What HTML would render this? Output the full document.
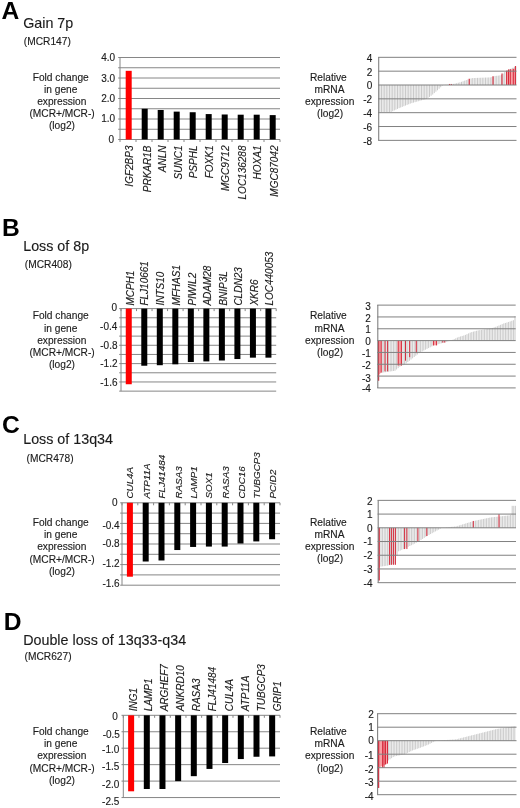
<!DOCTYPE html>
<html><head><meta charset="utf-8"><title>Figure</title>
<style>
html,body{margin:0;padding:0;background:#fff;}
body{width:520px;height:808px;overflow:hidden;font-family:"Liberation Sans", sans-serif;}
svg{display:block;filter:blur(0.35px);}
svg text{font-family:"Liberation Sans", sans-serif;stroke:#222;stroke-width:0.13px;}
</style></head><body>
<svg width="520" height="808" viewBox="0 0 520 808">
<rect x="0" y="0" width="520" height="808" fill="#ffffff"/>
<text x="1.60" y="19.00" font-size="24.6" text-anchor="start" font-weight="bold" font-style="normal" fill="#000" style="stroke:none">A</text>
<text x="23.20" y="28.30" font-size="14.3" text-anchor="start" font-weight="normal" font-style="normal" fill="#1a1a1a" >Gain 7p</text>
<text x="23.80" y="44.90" font-size="10.2" text-anchor="start" font-weight="normal" font-style="normal" fill="#1a1a1a" >(MCR147)</text>
<line x1="118.20" y1="57.50" x2="280.00" y2="57.50" stroke="#868686" stroke-width="1"/>
<line x1="118.20" y1="67.75" x2="280.00" y2="67.75" stroke="#868686" stroke-width="1"/>
<line x1="118.20" y1="78.00" x2="280.00" y2="78.00" stroke="#868686" stroke-width="1"/>
<line x1="118.20" y1="88.25" x2="280.00" y2="88.25" stroke="#868686" stroke-width="1"/>
<line x1="118.20" y1="98.50" x2="280.00" y2="98.50" stroke="#868686" stroke-width="1"/>
<line x1="118.20" y1="108.75" x2="280.00" y2="108.75" stroke="#868686" stroke-width="1"/>
<line x1="118.20" y1="119.00" x2="280.00" y2="119.00" stroke="#868686" stroke-width="1"/>
<line x1="118.20" y1="129.25" x2="280.00" y2="129.25" stroke="#868686" stroke-width="1"/>
<line x1="118.20" y1="139.50" x2="280.00" y2="139.50" stroke="#868686" stroke-width="1"/>
<line x1="120.00" y1="57.50" x2="120.00" y2="139.50" stroke="#868686" stroke-width="1"/>
<line x1="120.00" y1="139.50" x2="120.00" y2="142.00" stroke="#868686" stroke-width="1"/>
<line x1="136.00" y1="139.50" x2="136.00" y2="142.00" stroke="#868686" stroke-width="1"/>
<line x1="152.00" y1="139.50" x2="152.00" y2="142.00" stroke="#868686" stroke-width="1"/>
<line x1="168.00" y1="139.50" x2="168.00" y2="142.00" stroke="#868686" stroke-width="1"/>
<line x1="184.00" y1="139.50" x2="184.00" y2="142.00" stroke="#868686" stroke-width="1"/>
<line x1="200.00" y1="139.50" x2="200.00" y2="142.00" stroke="#868686" stroke-width="1"/>
<line x1="216.00" y1="139.50" x2="216.00" y2="142.00" stroke="#868686" stroke-width="1"/>
<line x1="232.00" y1="139.50" x2="232.00" y2="142.00" stroke="#868686" stroke-width="1"/>
<line x1="248.00" y1="139.50" x2="248.00" y2="142.00" stroke="#868686" stroke-width="1"/>
<line x1="264.00" y1="139.50" x2="264.00" y2="142.00" stroke="#868686" stroke-width="1"/>
<line x1="280.00" y1="139.50" x2="280.00" y2="142.00" stroke="#868686" stroke-width="1"/>
<text x="115.10" y="61.15" font-size="10" text-anchor="end" font-weight="normal" font-style="normal" fill="#1a1a1a" >4.0</text>
<text x="115.10" y="81.75" font-size="10" text-anchor="end" font-weight="normal" font-style="normal" fill="#1a1a1a" >3.0</text>
<text x="115.10" y="101.95" font-size="10" text-anchor="end" font-weight="normal" font-style="normal" fill="#1a1a1a" >2.0</text>
<text x="115.10" y="122.35" font-size="10" text-anchor="end" font-weight="normal" font-style="normal" fill="#1a1a1a" >1.0</text>
<text x="114.10" y="142.85" font-size="10" text-anchor="end" font-weight="normal" font-style="normal" fill="#1a1a1a" >0</text>
<rect x="125.70" y="70.83" width="6.00" height="68.67" fill="#ff0000"/>
<rect x="141.70" y="108.75" width="6.00" height="30.75" fill="#000000"/>
<rect x="157.70" y="109.98" width="6.00" height="29.52" fill="#000000"/>
<rect x="173.70" y="111.62" width="6.00" height="27.88" fill="#000000"/>
<rect x="189.70" y="112.23" width="6.00" height="27.27" fill="#000000"/>
<rect x="205.70" y="114.08" width="6.00" height="25.42" fill="#000000"/>
<rect x="221.70" y="114.49" width="6.00" height="25.01" fill="#000000"/>
<rect x="237.70" y="114.69" width="6.00" height="24.81" fill="#000000"/>
<rect x="253.70" y="114.69" width="6.00" height="24.81" fill="#000000"/>
<rect x="269.70" y="115.11" width="6.00" height="24.39" fill="#000000"/>
<text transform="translate(133.20,145.50) rotate(-90)" font-size="10" font-style="italic" text-anchor="end" fill="#1a1a1a">IGF2BP3</text>
<text transform="translate(151.20,145.50) rotate(-90)" font-size="10" font-style="italic" text-anchor="end" fill="#1a1a1a">PRKAR1B</text>
<text transform="translate(165.50,145.50) rotate(-90)" font-size="10" font-style="italic" text-anchor="end" fill="#1a1a1a">ANLN</text>
<text transform="translate(182.00,145.50) rotate(-90)" font-size="10" font-style="italic" text-anchor="end" fill="#1a1a1a">SUNC1</text>
<text transform="translate(197.20,145.50) rotate(-90)" font-size="10" font-style="italic" text-anchor="end" fill="#1a1a1a">PSPHL</text>
<text transform="translate(213.20,145.50) rotate(-90)" font-size="10" font-style="italic" text-anchor="end" fill="#1a1a1a">FOXK1</text>
<text transform="translate(229.20,145.50) rotate(-90)" font-size="10" font-style="italic" text-anchor="end" fill="#1a1a1a">MGC9712</text>
<text transform="translate(245.60,145.50) rotate(-90)" font-size="10" font-style="italic" text-anchor="end" fill="#1a1a1a">LOC136288</text>
<text transform="translate(261.20,145.50) rotate(-90)" font-size="10" font-style="italic" text-anchor="end" fill="#1a1a1a">HOXA1</text>
<text transform="translate(278.20,145.50) rotate(-90)" font-size="10" font-style="italic" text-anchor="end" fill="#1a1a1a">MGC87042</text>
<text x="60.70" y="80.60" font-size="10.2" text-anchor="middle" font-weight="normal" font-style="normal" fill="#1a1a1a" >Fold change</text>
<text x="60.70" y="92.80" font-size="10.2" text-anchor="middle" font-weight="normal" font-style="normal" fill="#1a1a1a" >in gene</text>
<text x="61.80" y="105.00" font-size="10.2" text-anchor="middle" font-weight="normal" font-style="normal" fill="#1a1a1a" >expression</text>
<text x="62.10" y="117.20" font-size="10.2" text-anchor="middle" font-weight="normal" font-style="normal" fill="#1a1a1a" >(MCR+/MCR-)</text>
<text x="62.00" y="129.40" font-size="10.2" text-anchor="middle" font-weight="normal" font-style="normal" fill="#1a1a1a" >(log2)</text>
<line x1="379.90" y1="85.00" x2="379.90" y2="111.99" stroke="#b3b3b3" stroke-width="0.7"/>
<line x1="381.50" y1="85.00" x2="381.50" y2="111.99" stroke="#b3b3b3" stroke-width="0.7"/>
<line x1="383.10" y1="85.00" x2="383.10" y2="111.99" stroke="#b3b3b3" stroke-width="0.7"/>
<line x1="384.70" y1="85.00" x2="384.70" y2="111.99" stroke="#b3b3b3" stroke-width="0.7"/>
<line x1="386.30" y1="85.00" x2="386.30" y2="111.99" stroke="#b3b3b3" stroke-width="0.7"/>
<line x1="387.90" y1="85.00" x2="387.90" y2="111.99" stroke="#b3b3b3" stroke-width="0.7"/>
<line x1="389.50" y1="85.00" x2="389.50" y2="111.99" stroke="#b3b3b3" stroke-width="0.7"/>
<line x1="391.10" y1="85.00" x2="391.10" y2="111.94" stroke="#b3b3b3" stroke-width="0.7"/>
<line x1="392.70" y1="85.00" x2="392.70" y2="111.18" stroke="#b3b3b3" stroke-width="0.7"/>
<line x1="394.30" y1="85.00" x2="394.30" y2="110.42" stroke="#b3b3b3" stroke-width="0.7"/>
<line x1="395.90" y1="85.00" x2="395.90" y2="109.66" stroke="#b3b3b3" stroke-width="0.7"/>
<line x1="397.50" y1="85.00" x2="397.50" y2="108.90" stroke="#b3b3b3" stroke-width="0.7"/>
<line x1="399.10" y1="85.00" x2="399.10" y2="108.14" stroke="#b3b3b3" stroke-width="0.7"/>
<line x1="400.70" y1="85.00" x2="400.70" y2="107.50" stroke="#b3b3b3" stroke-width="0.7"/>
<line x1="402.30" y1="85.00" x2="402.30" y2="106.85" stroke="#b3b3b3" stroke-width="0.7"/>
<line x1="403.90" y1="85.00" x2="403.90" y2="106.20" stroke="#b3b3b3" stroke-width="0.7"/>
<line x1="405.50" y1="85.00" x2="405.50" y2="105.56" stroke="#b3b3b3" stroke-width="0.7"/>
<line x1="407.10" y1="85.00" x2="407.10" y2="104.91" stroke="#b3b3b3" stroke-width="0.7"/>
<line x1="408.70" y1="85.00" x2="408.70" y2="104.27" stroke="#b3b3b3" stroke-width="0.7"/>
<line x1="410.30" y1="85.00" x2="410.30" y2="103.62" stroke="#b3b3b3" stroke-width="0.7"/>
<line x1="411.90" y1="85.00" x2="411.90" y2="103.08" stroke="#b3b3b3" stroke-width="0.7"/>
<line x1="413.50" y1="85.00" x2="413.50" y2="102.62" stroke="#b3b3b3" stroke-width="0.7"/>
<line x1="415.10" y1="85.00" x2="415.10" y2="102.16" stroke="#b3b3b3" stroke-width="0.7"/>
<line x1="416.70" y1="85.00" x2="416.70" y2="101.69" stroke="#b3b3b3" stroke-width="0.7"/>
<line x1="418.30" y1="85.00" x2="418.30" y2="101.23" stroke="#b3b3b3" stroke-width="0.7"/>
<line x1="419.90" y1="85.00" x2="419.90" y2="100.77" stroke="#b3b3b3" stroke-width="0.7"/>
<line x1="421.50" y1="85.00" x2="421.50" y2="100.31" stroke="#b3b3b3" stroke-width="0.7"/>
<line x1="423.10" y1="85.00" x2="423.10" y2="99.88" stroke="#b3b3b3" stroke-width="0.7"/>
<line x1="424.70" y1="85.00" x2="424.70" y2="99.45" stroke="#b3b3b3" stroke-width="0.7"/>
<line x1="426.30" y1="85.00" x2="426.30" y2="99.03" stroke="#b3b3b3" stroke-width="0.7"/>
<line x1="427.90" y1="85.00" x2="427.90" y2="98.16" stroke="#b3b3b3" stroke-width="0.7"/>
<line x1="429.50" y1="85.00" x2="429.50" y2="96.95" stroke="#b3b3b3" stroke-width="0.7"/>
<line x1="431.10" y1="85.00" x2="431.10" y2="95.74" stroke="#b3b3b3" stroke-width="0.7"/>
<line x1="432.70" y1="85.00" x2="432.70" y2="94.51" stroke="#b3b3b3" stroke-width="0.7"/>
<line x1="434.30" y1="85.00" x2="434.30" y2="93.10" stroke="#b3b3b3" stroke-width="0.7"/>
<line x1="435.90" y1="85.00" x2="435.90" y2="91.69" stroke="#b3b3b3" stroke-width="0.7"/>
<line x1="437.50" y1="85.00" x2="437.50" y2="90.28" stroke="#b3b3b3" stroke-width="0.7"/>
<line x1="439.10" y1="85.00" x2="439.10" y2="88.78" stroke="#b3b3b3" stroke-width="0.7"/>
<line x1="440.70" y1="85.00" x2="440.70" y2="87.23" stroke="#b3b3b3" stroke-width="0.7"/>
<line x1="442.30" y1="85.00" x2="442.30" y2="85.68" stroke="#b3b3b3" stroke-width="0.7"/>
<line x1="443.90" y1="85.00" x2="443.90" y2="84.95" stroke="#b3b3b3" stroke-width="0.7"/>
<line x1="445.50" y1="85.00" x2="445.50" y2="84.86" stroke="#b3b3b3" stroke-width="0.7"/>
<line x1="447.10" y1="85.00" x2="447.10" y2="84.76" stroke="#b3b3b3" stroke-width="0.7"/>
<line x1="448.70" y1="85.00" x2="448.70" y2="84.67" stroke="#b3b3b3" stroke-width="0.7"/>
<line x1="450.30" y1="85.00" x2="450.30" y2="84.43" stroke="#b3b3b3" stroke-width="0.7"/>
<line x1="451.90" y1="85.00" x2="451.90" y2="84.15" stroke="#b3b3b3" stroke-width="0.7"/>
<line x1="453.50" y1="85.00" x2="453.50" y2="83.88" stroke="#b3b3b3" stroke-width="0.7"/>
<line x1="455.10" y1="85.00" x2="455.10" y2="83.59" stroke="#b3b3b3" stroke-width="0.7"/>
<line x1="456.70" y1="85.00" x2="456.70" y2="83.19" stroke="#b3b3b3" stroke-width="0.7"/>
<line x1="458.30" y1="85.00" x2="458.30" y2="82.79" stroke="#b3b3b3" stroke-width="0.7"/>
<line x1="459.90" y1="85.00" x2="459.90" y2="82.40" stroke="#b3b3b3" stroke-width="0.7"/>
<line x1="461.50" y1="85.00" x2="461.50" y2="81.83" stroke="#b3b3b3" stroke-width="0.7"/>
<line x1="463.10" y1="85.00" x2="463.10" y2="81.24" stroke="#b3b3b3" stroke-width="0.7"/>
<line x1="464.70" y1="85.00" x2="464.70" y2="80.66" stroke="#b3b3b3" stroke-width="0.7"/>
<line x1="466.30" y1="85.00" x2="466.30" y2="80.08" stroke="#b3b3b3" stroke-width="0.7"/>
<line x1="467.90" y1="85.00" x2="467.90" y2="79.50" stroke="#b3b3b3" stroke-width="0.7"/>
<line x1="469.50" y1="85.00" x2="469.50" y2="78.94" stroke="#b3b3b3" stroke-width="0.7"/>
<line x1="471.10" y1="85.00" x2="471.10" y2="78.39" stroke="#b3b3b3" stroke-width="0.7"/>
<line x1="472.70" y1="85.00" x2="472.70" y2="78.05" stroke="#b3b3b3" stroke-width="0.7"/>
<line x1="474.30" y1="85.00" x2="474.30" y2="78.00" stroke="#b3b3b3" stroke-width="0.7"/>
<line x1="475.90" y1="85.00" x2="475.90" y2="77.94" stroke="#b3b3b3" stroke-width="0.7"/>
<line x1="477.50" y1="85.00" x2="477.50" y2="77.88" stroke="#b3b3b3" stroke-width="0.7"/>
<line x1="479.10" y1="85.00" x2="479.10" y2="77.82" stroke="#b3b3b3" stroke-width="0.7"/>
<line x1="480.70" y1="85.00" x2="480.70" y2="77.76" stroke="#b3b3b3" stroke-width="0.7"/>
<line x1="482.30" y1="85.00" x2="482.30" y2="77.70" stroke="#b3b3b3" stroke-width="0.7"/>
<line x1="483.90" y1="85.00" x2="483.90" y2="77.65" stroke="#b3b3b3" stroke-width="0.7"/>
<line x1="485.50" y1="85.00" x2="485.50" y2="77.59" stroke="#b3b3b3" stroke-width="0.7"/>
<line x1="487.10" y1="85.00" x2="487.10" y2="77.53" stroke="#b3b3b3" stroke-width="0.7"/>
<line x1="488.70" y1="85.00" x2="488.70" y2="77.47" stroke="#b3b3b3" stroke-width="0.7"/>
<line x1="490.30" y1="85.00" x2="490.30" y2="77.41" stroke="#b3b3b3" stroke-width="0.7"/>
<line x1="491.90" y1="85.00" x2="491.90" y2="77.08" stroke="#b3b3b3" stroke-width="0.7"/>
<line x1="493.50" y1="85.00" x2="493.50" y2="76.52" stroke="#b3b3b3" stroke-width="0.7"/>
<line x1="495.10" y1="85.00" x2="495.10" y2="75.99" stroke="#b3b3b3" stroke-width="0.7"/>
<line x1="496.70" y1="85.00" x2="496.70" y2="75.81" stroke="#b3b3b3" stroke-width="0.7"/>
<line x1="498.30" y1="85.00" x2="498.30" y2="75.62" stroke="#b3b3b3" stroke-width="0.7"/>
<line x1="499.90" y1="85.00" x2="499.90" y2="75.44" stroke="#b3b3b3" stroke-width="0.7"/>
<line x1="501.50" y1="85.00" x2="501.50" y2="74.88" stroke="#b3b3b3" stroke-width="0.7"/>
<line x1="503.10" y1="85.00" x2="503.10" y2="73.50" stroke="#b3b3b3" stroke-width="0.7"/>
<line x1="504.70" y1="85.00" x2="504.70" y2="72.11" stroke="#b3b3b3" stroke-width="0.7"/>
<line x1="506.30" y1="85.00" x2="506.30" y2="71.13" stroke="#b3b3b3" stroke-width="0.7"/>
<line x1="507.90" y1="85.00" x2="507.90" y2="70.25" stroke="#b3b3b3" stroke-width="0.7"/>
<line x1="509.50" y1="85.00" x2="509.50" y2="69.36" stroke="#b3b3b3" stroke-width="0.7"/>
<line x1="511.10" y1="85.00" x2="511.10" y2="68.58" stroke="#b3b3b3" stroke-width="0.7"/>
<line x1="512.70" y1="85.00" x2="512.70" y2="67.84" stroke="#b3b3b3" stroke-width="0.7"/>
<line x1="514.30" y1="85.00" x2="514.30" y2="67.10" stroke="#b3b3b3" stroke-width="0.7"/>
<line x1="515.90" y1="85.00" x2="515.90" y2="66.36" stroke="#b3b3b3" stroke-width="0.7"/>
<polygon points="506.20,85.00 506.20,70.74 515.60,68.39 515.60,85.00" fill="#f7a0a4"/>
<line x1="449.50" y1="85.00" x2="449.50" y2="83.96" stroke="#d62a3c" stroke-width="1"/>
<line x1="451.30" y1="85.00" x2="451.30" y2="83.96" stroke="#d62a3c" stroke-width="1"/>
<line x1="469.20" y1="85.00" x2="469.20" y2="78.77" stroke="#d62a3c" stroke-width="1.1"/>
<line x1="493.00" y1="85.00" x2="493.00" y2="76.21" stroke="#d62a3c" stroke-width="1.1"/>
<line x1="502.00" y1="85.00" x2="502.00" y2="73.58" stroke="#d62a3c" stroke-width="1.1"/>
<line x1="506.60" y1="85.00" x2="506.60" y2="70.74" stroke="#d62a3c" stroke-width="1"/>
<line x1="508.50" y1="85.00" x2="508.50" y2="69.43" stroke="#d62a3c" stroke-width="1"/>
<line x1="510.30" y1="85.00" x2="510.30" y2="69.08" stroke="#d62a3c" stroke-width="1"/>
<line x1="513.30" y1="85.00" x2="513.30" y2="68.74" stroke="#d62a3c" stroke-width="1"/>
<line x1="515.40" y1="85.00" x2="515.40" y2="65.97" stroke="#d62a3c" stroke-width="1.1"/>
<line x1="378.10" y1="57.32" x2="516.50" y2="57.32" stroke="#808080" stroke-width="1.0"/>
<text x="372.20" y="61.67" font-size="10" text-anchor="end" font-weight="normal" font-style="normal" fill="#1a1a1a" >4</text>
<line x1="378.10" y1="71.16" x2="516.50" y2="71.16" stroke="#808080" stroke-width="1.0"/>
<text x="372.20" y="75.51" font-size="10" text-anchor="end" font-weight="normal" font-style="normal" fill="#1a1a1a" >2</text>
<line x1="378.10" y1="85.00" x2="516.50" y2="85.00" stroke="#808080" stroke-width="1.0"/>
<text x="372.20" y="89.35" font-size="10" text-anchor="end" font-weight="normal" font-style="normal" fill="#1a1a1a" >0</text>
<line x1="378.10" y1="98.84" x2="516.50" y2="98.84" stroke="#808080" stroke-width="1.0"/>
<text x="372.20" y="103.19" font-size="10" text-anchor="end" font-weight="normal" font-style="normal" fill="#1a1a1a" >-2</text>
<line x1="378.10" y1="112.68" x2="516.50" y2="112.68" stroke="#808080" stroke-width="1.0"/>
<text x="372.20" y="117.03" font-size="10" text-anchor="end" font-weight="normal" font-style="normal" fill="#1a1a1a" >-4</text>
<line x1="378.10" y1="126.52" x2="516.50" y2="126.52" stroke="#808080" stroke-width="1.0"/>
<text x="372.20" y="130.87" font-size="10" text-anchor="end" font-weight="normal" font-style="normal" fill="#1a1a1a" >-6</text>
<line x1="378.10" y1="140.36" x2="516.50" y2="140.36" stroke="#808080" stroke-width="1.0"/>
<text x="372.20" y="144.71" font-size="10" text-anchor="end" font-weight="normal" font-style="normal" fill="#1a1a1a" >-8</text>
<line x1="378.70" y1="57.32" x2="378.70" y2="140.36" stroke="#808080" stroke-width="1.1"/>
<text x="328.40" y="80.60" font-size="10.2" text-anchor="middle" font-weight="normal" font-style="normal" fill="#1a1a1a" >Relative</text>
<text x="329.50" y="92.70" font-size="10.2" text-anchor="middle" font-weight="normal" font-style="normal" fill="#1a1a1a" >mRNA</text>
<text x="329.70" y="104.80" font-size="10.2" text-anchor="middle" font-weight="normal" font-style="normal" fill="#1a1a1a" >expression</text>
<text x="330.10" y="116.90" font-size="10.2" text-anchor="middle" font-weight="normal" font-style="normal" fill="#1a1a1a" >(log2)</text>
<text x="2.10" y="235.70" font-size="24.6" text-anchor="start" font-weight="bold" font-style="normal" fill="#000" style="stroke:none">B</text>
<text x="23.20" y="250.50" font-size="14.3" text-anchor="start" font-weight="normal" font-style="normal" fill="#1a1a1a" >Loss of 8p</text>
<text x="24.80" y="267.80" font-size="10.2" text-anchor="start" font-weight="normal" font-style="normal" fill="#1a1a1a" >(MCR408)</text>
<line x1="119.20" y1="308.60" x2="276.20" y2="308.60" stroke="#868686" stroke-width="1"/>
<line x1="119.20" y1="317.77" x2="276.20" y2="317.77" stroke="#868686" stroke-width="1"/>
<line x1="119.20" y1="326.94" x2="276.20" y2="326.94" stroke="#868686" stroke-width="1"/>
<line x1="119.20" y1="336.11" x2="276.20" y2="336.11" stroke="#868686" stroke-width="1"/>
<line x1="119.20" y1="345.28" x2="276.20" y2="345.28" stroke="#868686" stroke-width="1"/>
<line x1="119.20" y1="354.45" x2="276.20" y2="354.45" stroke="#868686" stroke-width="1"/>
<line x1="119.20" y1="363.62" x2="276.20" y2="363.62" stroke="#868686" stroke-width="1"/>
<line x1="119.20" y1="372.79" x2="276.20" y2="372.79" stroke="#868686" stroke-width="1"/>
<line x1="119.20" y1="381.96" x2="276.20" y2="381.96" stroke="#868686" stroke-width="1"/>
<line x1="119.20" y1="391.13" x2="276.20" y2="391.13" stroke="#868686" stroke-width="1"/>
<line x1="121.00" y1="308.60" x2="121.00" y2="391.13" stroke="#868686" stroke-width="1"/>
<line x1="121.00" y1="308.60" x2="121.00" y2="311.10" stroke="#868686" stroke-width="1"/>
<line x1="136.52" y1="308.60" x2="136.52" y2="311.10" stroke="#868686" stroke-width="1"/>
<line x1="152.04" y1="308.60" x2="152.04" y2="311.10" stroke="#868686" stroke-width="1"/>
<line x1="167.56" y1="308.60" x2="167.56" y2="311.10" stroke="#868686" stroke-width="1"/>
<line x1="183.08" y1="308.60" x2="183.08" y2="311.10" stroke="#868686" stroke-width="1"/>
<line x1="198.60" y1="308.60" x2="198.60" y2="311.10" stroke="#868686" stroke-width="1"/>
<line x1="214.12" y1="308.60" x2="214.12" y2="311.10" stroke="#868686" stroke-width="1"/>
<line x1="229.64" y1="308.60" x2="229.64" y2="311.10" stroke="#868686" stroke-width="1"/>
<line x1="245.16" y1="308.60" x2="245.16" y2="311.10" stroke="#868686" stroke-width="1"/>
<line x1="260.68" y1="308.60" x2="260.68" y2="311.10" stroke="#868686" stroke-width="1"/>
<line x1="276.20" y1="308.60" x2="276.20" y2="311.10" stroke="#868686" stroke-width="1"/>
<text x="117.10" y="311.15" font-size="10" text-anchor="end" font-weight="normal" font-style="normal" fill="#1a1a1a" >0</text>
<text x="117.30" y="330.35" font-size="10" text-anchor="end" font-weight="normal" font-style="normal" fill="#1a1a1a" >-0.4</text>
<text x="117.50" y="348.85" font-size="10" text-anchor="end" font-weight="normal" font-style="normal" fill="#1a1a1a" >-0.8</text>
<text x="117.50" y="367.05" font-size="10" text-anchor="end" font-weight="normal" font-style="normal" fill="#1a1a1a" >-1.2</text>
<text x="117.50" y="385.55" font-size="10" text-anchor="end" font-weight="normal" font-style="normal" fill="#1a1a1a" >-1.6</text>
<rect x="125.76" y="308.60" width="6.00" height="75.65" fill="#ff0000"/>
<rect x="141.28" y="308.60" width="6.00" height="57.13" fill="#000000"/>
<rect x="156.80" y="308.60" width="6.00" height="56.62" fill="#000000"/>
<rect x="172.32" y="308.60" width="6.00" height="55.71" fill="#000000"/>
<rect x="187.84" y="308.60" width="6.00" height="53.42" fill="#000000"/>
<rect x="203.36" y="308.60" width="6.00" height="52.82" fill="#000000"/>
<rect x="218.88" y="308.60" width="6.00" height="51.90" fill="#000000"/>
<rect x="234.40" y="308.60" width="6.00" height="50.44" fill="#000000"/>
<rect x="249.92" y="308.60" width="6.00" height="49.06" fill="#000000"/>
<rect x="265.44" y="308.60" width="6.00" height="49.06" fill="#000000"/>
<text transform="translate(134.06,305.60) rotate(-90)" font-size="10" font-style="italic" text-anchor="start" fill="#1a1a1a">MCPH1</text>
<text transform="translate(148.08,305.60) rotate(-90)" font-size="10" font-style="italic" text-anchor="start" fill="#1a1a1a">FLJ10661</text>
<text transform="translate(164.00,305.60) rotate(-90)" font-size="10" font-style="italic" text-anchor="start" fill="#1a1a1a">INTS10</text>
<text transform="translate(179.52,305.60) rotate(-90)" font-size="10" font-style="italic" text-anchor="start" fill="#1a1a1a">MFHAS1</text>
<text transform="translate(195.84,305.60) rotate(-90)" font-size="10" font-style="italic" text-anchor="start" fill="#1a1a1a">PIWIL2</text>
<text transform="translate(211.36,305.60) rotate(-90)" font-size="10" font-style="italic" text-anchor="start" fill="#1a1a1a">ADAM28</text>
<text transform="translate(226.88,305.60) rotate(-90)" font-size="10" font-style="italic" text-anchor="start" fill="#1a1a1a">BNIP3L</text>
<text transform="translate(242.40,305.60) rotate(-90)" font-size="10" font-style="italic" text-anchor="start" fill="#1a1a1a">CLDN23</text>
<text transform="translate(257.92,305.60) rotate(-90)" font-size="10" font-style="italic" text-anchor="start" fill="#1a1a1a">XKR6</text>
<text transform="translate(273.44,305.60) rotate(-90)" font-size="10" font-style="italic" text-anchor="start" fill="#1a1a1a">LOC440053</text>
<text x="60.70" y="319.40" font-size="10.2" text-anchor="middle" font-weight="normal" font-style="normal" fill="#1a1a1a" >Fold change</text>
<text x="60.70" y="331.55" font-size="10.2" text-anchor="middle" font-weight="normal" font-style="normal" fill="#1a1a1a" >in gene</text>
<text x="61.80" y="343.70" font-size="10.2" text-anchor="middle" font-weight="normal" font-style="normal" fill="#1a1a1a" >expression</text>
<text x="62.10" y="355.85" font-size="10.2" text-anchor="middle" font-weight="normal" font-style="normal" fill="#1a1a1a" >(MCR+/MCR-)</text>
<text x="62.00" y="368.00" font-size="10.2" text-anchor="middle" font-weight="normal" font-style="normal" fill="#1a1a1a" >(log2)</text>
<line x1="379.00" y1="340.60" x2="379.00" y2="373.13" stroke="#b3b3b3" stroke-width="0.7"/>
<line x1="380.60" y1="340.60" x2="380.60" y2="372.90" stroke="#b3b3b3" stroke-width="0.7"/>
<line x1="382.20" y1="340.60" x2="382.20" y2="372.66" stroke="#b3b3b3" stroke-width="0.7"/>
<line x1="383.80" y1="340.60" x2="383.80" y2="372.42" stroke="#b3b3b3" stroke-width="0.7"/>
<line x1="385.40" y1="340.60" x2="385.40" y2="372.19" stroke="#b3b3b3" stroke-width="0.7"/>
<line x1="387.00" y1="340.60" x2="387.00" y2="371.95" stroke="#b3b3b3" stroke-width="0.7"/>
<line x1="388.60" y1="340.60" x2="388.60" y2="371.71" stroke="#b3b3b3" stroke-width="0.7"/>
<line x1="390.20" y1="340.60" x2="390.20" y2="371.48" stroke="#b3b3b3" stroke-width="0.7"/>
<line x1="391.80" y1="340.60" x2="391.80" y2="371.24" stroke="#b3b3b3" stroke-width="0.7"/>
<line x1="393.40" y1="340.60" x2="393.40" y2="371.00" stroke="#b3b3b3" stroke-width="0.7"/>
<line x1="395.00" y1="340.60" x2="395.00" y2="370.77" stroke="#b3b3b3" stroke-width="0.7"/>
<line x1="396.60" y1="340.60" x2="396.60" y2="369.44" stroke="#b3b3b3" stroke-width="0.7"/>
<line x1="398.20" y1="340.60" x2="398.20" y2="368.12" stroke="#b3b3b3" stroke-width="0.7"/>
<line x1="399.80" y1="340.60" x2="399.80" y2="366.79" stroke="#b3b3b3" stroke-width="0.7"/>
<line x1="401.40" y1="340.60" x2="401.40" y2="365.96" stroke="#b3b3b3" stroke-width="0.7"/>
<line x1="403.00" y1="340.60" x2="403.00" y2="365.21" stroke="#b3b3b3" stroke-width="0.7"/>
<line x1="404.60" y1="340.60" x2="404.60" y2="364.45" stroke="#b3b3b3" stroke-width="0.7"/>
<line x1="406.20" y1="340.60" x2="406.20" y2="363.31" stroke="#b3b3b3" stroke-width="0.7"/>
<line x1="407.80" y1="340.60" x2="407.80" y2="362.05" stroke="#b3b3b3" stroke-width="0.7"/>
<line x1="409.40" y1="340.60" x2="409.40" y2="360.79" stroke="#b3b3b3" stroke-width="0.7"/>
<line x1="411.00" y1="340.60" x2="411.00" y2="359.53" stroke="#b3b3b3" stroke-width="0.7"/>
<line x1="412.60" y1="340.60" x2="412.60" y2="358.27" stroke="#b3b3b3" stroke-width="0.7"/>
<line x1="414.20" y1="340.60" x2="414.20" y2="357.00" stroke="#b3b3b3" stroke-width="0.7"/>
<line x1="415.80" y1="340.60" x2="415.80" y2="355.74" stroke="#b3b3b3" stroke-width="0.7"/>
<line x1="417.40" y1="340.60" x2="417.40" y2="354.48" stroke="#b3b3b3" stroke-width="0.7"/>
<line x1="419.00" y1="340.60" x2="419.00" y2="353.22" stroke="#b3b3b3" stroke-width="0.7"/>
<line x1="420.60" y1="340.60" x2="420.60" y2="352.13" stroke="#b3b3b3" stroke-width="0.7"/>
<line x1="422.20" y1="340.60" x2="422.20" y2="351.31" stroke="#b3b3b3" stroke-width="0.7"/>
<line x1="423.80" y1="340.60" x2="423.80" y2="350.50" stroke="#b3b3b3" stroke-width="0.7"/>
<line x1="425.40" y1="340.60" x2="425.40" y2="349.69" stroke="#b3b3b3" stroke-width="0.7"/>
<line x1="427.00" y1="340.60" x2="427.00" y2="348.88" stroke="#b3b3b3" stroke-width="0.7"/>
<line x1="428.60" y1="340.60" x2="428.60" y2="348.07" stroke="#b3b3b3" stroke-width="0.7"/>
<line x1="430.20" y1="340.60" x2="430.20" y2="347.26" stroke="#b3b3b3" stroke-width="0.7"/>
<line x1="431.80" y1="340.60" x2="431.80" y2="346.45" stroke="#b3b3b3" stroke-width="0.7"/>
<line x1="433.40" y1="340.60" x2="433.40" y2="345.64" stroke="#b3b3b3" stroke-width="0.7"/>
<line x1="435.00" y1="340.60" x2="435.00" y2="345.05" stroke="#b3b3b3" stroke-width="0.7"/>
<line x1="436.60" y1="340.60" x2="436.60" y2="344.61" stroke="#b3b3b3" stroke-width="0.7"/>
<line x1="438.20" y1="340.60" x2="438.20" y2="344.16" stroke="#b3b3b3" stroke-width="0.7"/>
<line x1="439.80" y1="340.60" x2="439.80" y2="343.72" stroke="#b3b3b3" stroke-width="0.7"/>
<line x1="441.40" y1="340.60" x2="441.40" y2="343.27" stroke="#b3b3b3" stroke-width="0.7"/>
<line x1="443.00" y1="340.60" x2="443.00" y2="342.83" stroke="#b3b3b3" stroke-width="0.7"/>
<line x1="444.60" y1="340.60" x2="444.60" y2="342.38" stroke="#b3b3b3" stroke-width="0.7"/>
<line x1="446.20" y1="340.60" x2="446.20" y2="341.94" stroke="#b3b3b3" stroke-width="0.7"/>
<line x1="447.80" y1="340.60" x2="447.80" y2="341.49" stroke="#b3b3b3" stroke-width="0.7"/>
<line x1="449.40" y1="340.60" x2="449.40" y2="341.05" stroke="#b3b3b3" stroke-width="0.7"/>
<line x1="451.00" y1="340.60" x2="451.00" y2="340.60" stroke="#b3b3b3" stroke-width="0.7"/>
<line x1="452.60" y1="340.60" x2="452.60" y2="339.84" stroke="#b3b3b3" stroke-width="0.7"/>
<line x1="454.20" y1="340.60" x2="454.20" y2="339.09" stroke="#b3b3b3" stroke-width="0.7"/>
<line x1="455.80" y1="340.60" x2="455.80" y2="338.33" stroke="#b3b3b3" stroke-width="0.7"/>
<line x1="457.40" y1="340.60" x2="457.40" y2="337.57" stroke="#b3b3b3" stroke-width="0.7"/>
<line x1="459.00" y1="340.60" x2="459.00" y2="336.91" stroke="#b3b3b3" stroke-width="0.7"/>
<line x1="460.60" y1="340.60" x2="460.60" y2="336.44" stroke="#b3b3b3" stroke-width="0.7"/>
<line x1="462.20" y1="340.60" x2="462.20" y2="335.97" stroke="#b3b3b3" stroke-width="0.7"/>
<line x1="463.80" y1="340.60" x2="463.80" y2="335.51" stroke="#b3b3b3" stroke-width="0.7"/>
<line x1="465.40" y1="340.60" x2="465.40" y2="334.89" stroke="#b3b3b3" stroke-width="0.7"/>
<line x1="467.00" y1="340.60" x2="467.00" y2="334.13" stroke="#b3b3b3" stroke-width="0.7"/>
<line x1="468.60" y1="340.60" x2="468.60" y2="333.37" stroke="#b3b3b3" stroke-width="0.7"/>
<line x1="470.20" y1="340.60" x2="470.20" y2="332.61" stroke="#b3b3b3" stroke-width="0.7"/>
<line x1="471.80" y1="340.60" x2="471.80" y2="332.06" stroke="#b3b3b3" stroke-width="0.7"/>
<line x1="473.40" y1="340.60" x2="473.40" y2="331.64" stroke="#b3b3b3" stroke-width="0.7"/>
<line x1="475.00" y1="340.60" x2="475.00" y2="331.22" stroke="#b3b3b3" stroke-width="0.7"/>
<line x1="476.60" y1="340.60" x2="476.60" y2="330.80" stroke="#b3b3b3" stroke-width="0.7"/>
<line x1="478.20" y1="340.60" x2="478.20" y2="330.39" stroke="#b3b3b3" stroke-width="0.7"/>
<line x1="479.80" y1="340.60" x2="479.80" y2="330.12" stroke="#b3b3b3" stroke-width="0.7"/>
<line x1="481.40" y1="340.60" x2="481.40" y2="329.90" stroke="#b3b3b3" stroke-width="0.7"/>
<line x1="483.00" y1="340.60" x2="483.00" y2="329.67" stroke="#b3b3b3" stroke-width="0.7"/>
<line x1="484.60" y1="340.60" x2="484.60" y2="329.44" stroke="#b3b3b3" stroke-width="0.7"/>
<line x1="486.20" y1="340.60" x2="486.20" y2="329.21" stroke="#b3b3b3" stroke-width="0.7"/>
<line x1="487.80" y1="340.60" x2="487.80" y2="328.91" stroke="#b3b3b3" stroke-width="0.7"/>
<line x1="489.40" y1="340.60" x2="489.40" y2="328.60" stroke="#b3b3b3" stroke-width="0.7"/>
<line x1="491.00" y1="340.60" x2="491.00" y2="328.30" stroke="#b3b3b3" stroke-width="0.7"/>
<line x1="492.60" y1="340.60" x2="492.60" y2="327.95" stroke="#b3b3b3" stroke-width="0.7"/>
<line x1="494.20" y1="340.60" x2="494.20" y2="327.39" stroke="#b3b3b3" stroke-width="0.7"/>
<line x1="495.80" y1="340.60" x2="495.80" y2="326.83" stroke="#b3b3b3" stroke-width="0.7"/>
<line x1="497.40" y1="340.60" x2="497.40" y2="326.23" stroke="#b3b3b3" stroke-width="0.7"/>
<line x1="499.00" y1="340.60" x2="499.00" y2="325.53" stroke="#b3b3b3" stroke-width="0.7"/>
<line x1="500.60" y1="340.60" x2="500.60" y2="324.84" stroke="#b3b3b3" stroke-width="0.7"/>
<line x1="502.20" y1="340.60" x2="502.20" y2="324.14" stroke="#b3b3b3" stroke-width="0.7"/>
<line x1="503.80" y1="340.60" x2="503.80" y2="323.45" stroke="#b3b3b3" stroke-width="0.7"/>
<line x1="505.40" y1="340.60" x2="505.40" y2="322.96" stroke="#b3b3b3" stroke-width="0.7"/>
<line x1="507.00" y1="340.60" x2="507.00" y2="322.47" stroke="#b3b3b3" stroke-width="0.7"/>
<line x1="508.60" y1="340.60" x2="508.60" y2="321.98" stroke="#b3b3b3" stroke-width="0.7"/>
<line x1="510.20" y1="340.60" x2="510.20" y2="321.44" stroke="#b3b3b3" stroke-width="0.7"/>
<line x1="511.80" y1="340.60" x2="511.80" y2="320.82" stroke="#b3b3b3" stroke-width="0.7"/>
<line x1="513.40" y1="340.60" x2="513.40" y2="320.21" stroke="#b3b3b3" stroke-width="0.7"/>
<line x1="515.00" y1="340.60" x2="515.00" y2="316.03" stroke="#b3b3b3" stroke-width="0.7"/>
<polygon points="378.40,340.60 378.40,374.91 381.40,372.54 381.40,340.60" fill="#f7a0a4"/>
<polygon points="397.80,340.60 397.80,365.44 401.80,365.44 401.80,340.60" fill="#f7a0a4"/>
<polygon points="433.00,340.60 433.00,345.33 437.00,345.33 437.00,340.60" fill="#f7a0a4"/>
<line x1="378.60" y1="340.60" x2="378.60" y2="380.82" stroke="#d62a3c" stroke-width="1.2"/>
<line x1="381.20" y1="340.60" x2="381.20" y2="372.54" stroke="#d62a3c" stroke-width="1"/>
<line x1="385.00" y1="340.60" x2="385.00" y2="371.36" stroke="#d62a3c" stroke-width="1"/>
<line x1="387.60" y1="340.60" x2="387.60" y2="371.36" stroke="#d62a3c" stroke-width="1"/>
<line x1="398.20" y1="340.60" x2="398.20" y2="365.44" stroke="#d62a3c" stroke-width="1"/>
<line x1="401.40" y1="340.60" x2="401.40" y2="365.44" stroke="#d62a3c" stroke-width="1"/>
<line x1="405.50" y1="340.60" x2="405.50" y2="360.71" stroke="#d62a3c" stroke-width="1"/>
<line x1="409.70" y1="340.60" x2="409.70" y2="357.16" stroke="#d62a3c" stroke-width="1"/>
<line x1="416.30" y1="340.60" x2="416.30" y2="353.14" stroke="#d62a3c" stroke-width="1"/>
<line x1="433.40" y1="340.60" x2="433.40" y2="345.33" stroke="#d62a3c" stroke-width="1"/>
<line x1="436.60" y1="340.60" x2="436.60" y2="345.33" stroke="#d62a3c" stroke-width="1"/>
<line x1="442.80" y1="340.60" x2="442.80" y2="342.61" stroke="#d62a3c" stroke-width="1"/>
<line x1="444.80" y1="340.60" x2="444.80" y2="342.61" stroke="#d62a3c" stroke-width="1"/>
<line x1="377.20" y1="305.11" x2="515.70" y2="305.11" stroke="#808080" stroke-width="1.0"/>
<text x="370.80" y="309.75" font-size="10" text-anchor="end" font-weight="normal" font-style="normal" fill="#1a1a1a" >3</text>
<line x1="377.20" y1="316.94" x2="515.70" y2="316.94" stroke="#808080" stroke-width="1.0"/>
<text x="370.80" y="322.15" font-size="10" text-anchor="end" font-weight="normal" font-style="normal" fill="#1a1a1a" >2</text>
<line x1="377.20" y1="328.77" x2="515.70" y2="328.77" stroke="#808080" stroke-width="1.0"/>
<text x="370.80" y="333.35" font-size="10" text-anchor="end" font-weight="normal" font-style="normal" fill="#1a1a1a" >1</text>
<line x1="377.20" y1="340.60" x2="515.70" y2="340.60" stroke="#808080" stroke-width="1.0"/>
<text x="370.80" y="345.05" font-size="10" text-anchor="end" font-weight="normal" font-style="normal" fill="#1a1a1a" >0</text>
<line x1="377.20" y1="352.43" x2="515.70" y2="352.43" stroke="#808080" stroke-width="1.0"/>
<text x="370.80" y="356.85" font-size="10" text-anchor="end" font-weight="normal" font-style="normal" fill="#1a1a1a" >-1</text>
<line x1="377.20" y1="364.26" x2="515.70" y2="364.26" stroke="#808080" stroke-width="1.0"/>
<text x="370.80" y="369.15" font-size="10" text-anchor="end" font-weight="normal" font-style="normal" fill="#1a1a1a" >-2</text>
<line x1="377.20" y1="376.09" x2="515.70" y2="376.09" stroke="#808080" stroke-width="1.0"/>
<text x="370.80" y="381.55" font-size="10" text-anchor="end" font-weight="normal" font-style="normal" fill="#1a1a1a" >-3</text>
<line x1="377.20" y1="387.92" x2="515.70" y2="387.92" stroke="#808080" stroke-width="1.0"/>
<text x="370.80" y="392.15" font-size="10" text-anchor="end" font-weight="normal" font-style="normal" fill="#1a1a1a" >-4</text>
<line x1="377.80" y1="305.11" x2="377.80" y2="387.92" stroke="#808080" stroke-width="1.1"/>
<text x="328.40" y="319.20" font-size="10.2" text-anchor="middle" font-weight="normal" font-style="normal" fill="#1a1a1a" >Relative</text>
<text x="329.50" y="331.50" font-size="10.2" text-anchor="middle" font-weight="normal" font-style="normal" fill="#1a1a1a" >mRNA</text>
<text x="329.70" y="343.80" font-size="10.2" text-anchor="middle" font-weight="normal" font-style="normal" fill="#1a1a1a" >expression</text>
<text x="330.10" y="356.10" font-size="10.2" text-anchor="middle" font-weight="normal" font-style="normal" fill="#1a1a1a" >(log2)</text>
<text x="2.10" y="432.50" font-size="24.6" text-anchor="start" font-weight="bold" font-style="normal" fill="#000" style="stroke:none">C</text>
<text x="23.20" y="443.60" font-size="14.3" text-anchor="start" font-weight="normal" font-style="normal" fill="#1a1a1a" >Loss of 13q34</text>
<text x="26.60" y="462.00" font-size="10.2" text-anchor="start" font-weight="normal" font-style="normal" fill="#1a1a1a" >(MCR478)</text>
<line x1="120.20" y1="502.80" x2="280.00" y2="502.80" stroke="#868686" stroke-width="1"/>
<line x1="120.20" y1="513.10" x2="280.00" y2="513.10" stroke="#868686" stroke-width="1"/>
<line x1="120.20" y1="523.40" x2="280.00" y2="523.40" stroke="#868686" stroke-width="1"/>
<line x1="120.20" y1="533.70" x2="280.00" y2="533.70" stroke="#868686" stroke-width="1"/>
<line x1="120.20" y1="544.00" x2="280.00" y2="544.00" stroke="#868686" stroke-width="1"/>
<line x1="120.20" y1="554.30" x2="280.00" y2="554.30" stroke="#868686" stroke-width="1"/>
<line x1="120.20" y1="564.60" x2="280.00" y2="564.60" stroke="#868686" stroke-width="1"/>
<line x1="120.20" y1="574.90" x2="280.00" y2="574.90" stroke="#868686" stroke-width="1"/>
<line x1="120.20" y1="585.20" x2="280.00" y2="585.20" stroke="#868686" stroke-width="1"/>
<line x1="122.00" y1="502.80" x2="122.00" y2="585.20" stroke="#868686" stroke-width="1"/>
<line x1="122.00" y1="502.80" x2="122.00" y2="505.30" stroke="#868686" stroke-width="1"/>
<line x1="137.80" y1="502.80" x2="137.80" y2="505.30" stroke="#868686" stroke-width="1"/>
<line x1="153.60" y1="502.80" x2="153.60" y2="505.30" stroke="#868686" stroke-width="1"/>
<line x1="169.40" y1="502.80" x2="169.40" y2="505.30" stroke="#868686" stroke-width="1"/>
<line x1="185.20" y1="502.80" x2="185.20" y2="505.30" stroke="#868686" stroke-width="1"/>
<line x1="201.00" y1="502.80" x2="201.00" y2="505.30" stroke="#868686" stroke-width="1"/>
<line x1="216.80" y1="502.80" x2="216.80" y2="505.30" stroke="#868686" stroke-width="1"/>
<line x1="232.60" y1="502.80" x2="232.60" y2="505.30" stroke="#868686" stroke-width="1"/>
<line x1="248.40" y1="502.80" x2="248.40" y2="505.30" stroke="#868686" stroke-width="1"/>
<line x1="264.20" y1="502.80" x2="264.20" y2="505.30" stroke="#868686" stroke-width="1"/>
<line x1="280.00" y1="502.80" x2="280.00" y2="505.30" stroke="#868686" stroke-width="1"/>
<text x="117.50" y="505.65" font-size="10" text-anchor="end" font-weight="normal" font-style="normal" fill="#1a1a1a" >0</text>
<text x="119.70" y="528.55" font-size="10" text-anchor="end" font-weight="normal" font-style="normal" fill="#1a1a1a" >-0.4</text>
<text x="119.70" y="547.35" font-size="10" text-anchor="end" font-weight="normal" font-style="normal" fill="#1a1a1a" >-0.8</text>
<text x="119.70" y="567.35" font-size="10" text-anchor="end" font-weight="normal" font-style="normal" fill="#1a1a1a" >-1.2</text>
<text x="119.70" y="587.35" font-size="10" text-anchor="end" font-weight="normal" font-style="normal" fill="#1a1a1a" >-1.6</text>
<rect x="126.90" y="502.80" width="6.00" height="73.90" fill="#ff0000"/>
<rect x="142.70" y="502.80" width="6.00" height="58.71" fill="#000000"/>
<rect x="158.50" y="502.80" width="6.00" height="57.68" fill="#000000"/>
<rect x="174.30" y="502.80" width="6.00" height="47.23" fill="#000000"/>
<rect x="190.10" y="502.80" width="6.00" height="44.14" fill="#000000"/>
<rect x="205.90" y="502.80" width="6.00" height="43.78" fill="#000000"/>
<rect x="221.70" y="502.80" width="6.00" height="43.78" fill="#000000"/>
<rect x="237.50" y="502.80" width="6.00" height="40.69" fill="#000000"/>
<rect x="253.30" y="502.80" width="6.00" height="38.62" fill="#000000"/>
<rect x="269.10" y="502.80" width="6.00" height="36.41" fill="#000000"/>
<text transform="translate(133.00,498.50) rotate(-90)" font-size="9.8" font-style="italic" text-anchor="start" fill="#1a1a1a">CUL4A</text>
<text transform="translate(149.60,498.50) rotate(-90)" font-size="9.8" font-style="italic" text-anchor="start" fill="#1a1a1a">ATP11A</text>
<text transform="translate(164.90,498.50) rotate(-90)" font-size="9.8" font-style="italic" text-anchor="start" fill="#1a1a1a">FLJ41484</text>
<text transform="translate(182.00,498.50) rotate(-90)" font-size="9.8" font-style="italic" text-anchor="start" fill="#1a1a1a">RASA3</text>
<text transform="translate(196.70,498.50) rotate(-90)" font-size="9.8" font-style="italic" text-anchor="start" fill="#1a1a1a">LAMP1</text>
<text transform="translate(211.50,498.50) rotate(-90)" font-size="9.8" font-style="italic" text-anchor="start" fill="#1a1a1a">SOX1</text>
<text transform="translate(228.90,498.50) rotate(-90)" font-size="9.8" font-style="italic" text-anchor="start" fill="#1a1a1a">RASA3</text>
<text transform="translate(245.20,498.50) rotate(-90)" font-size="9.8" font-style="italic" text-anchor="start" fill="#1a1a1a">CDC16</text>
<text transform="translate(260.10,498.50) rotate(-90)" font-size="9.8" font-style="italic" text-anchor="start" fill="#1a1a1a">TUBGCP3</text>
<text transform="translate(275.50,498.50) rotate(-90)" font-size="9.8" font-style="italic" text-anchor="start" fill="#1a1a1a">PCID2</text>
<text x="60.70" y="525.60" font-size="10.2" text-anchor="middle" font-weight="normal" font-style="normal" fill="#1a1a1a" >Fold change</text>
<text x="60.70" y="538.00" font-size="10.2" text-anchor="middle" font-weight="normal" font-style="normal" fill="#1a1a1a" >in gene</text>
<text x="61.80" y="550.40" font-size="10.2" text-anchor="middle" font-weight="normal" font-style="normal" fill="#1a1a1a" >expression</text>
<text x="62.10" y="562.80" font-size="10.2" text-anchor="middle" font-weight="normal" font-style="normal" fill="#1a1a1a" >(MCR+/MCR-)</text>
<text x="62.00" y="575.20" font-size="10.2" text-anchor="middle" font-weight="normal" font-style="normal" fill="#1a1a1a" >(log2)</text>
<line x1="379.40" y1="527.80" x2="379.40" y2="566.84" stroke="#b3b3b3" stroke-width="0.7"/>
<line x1="381.00" y1="527.80" x2="381.00" y2="566.60" stroke="#b3b3b3" stroke-width="0.7"/>
<line x1="382.60" y1="527.80" x2="382.60" y2="566.35" stroke="#b3b3b3" stroke-width="0.7"/>
<line x1="384.20" y1="527.80" x2="384.20" y2="566.11" stroke="#b3b3b3" stroke-width="0.7"/>
<line x1="385.80" y1="527.80" x2="385.80" y2="565.87" stroke="#b3b3b3" stroke-width="0.7"/>
<line x1="387.40" y1="527.80" x2="387.40" y2="565.62" stroke="#b3b3b3" stroke-width="0.7"/>
<line x1="389.00" y1="527.80" x2="389.00" y2="565.27" stroke="#b3b3b3" stroke-width="0.7"/>
<line x1="390.60" y1="527.80" x2="390.60" y2="564.86" stroke="#b3b3b3" stroke-width="0.7"/>
<line x1="392.20" y1="527.80" x2="392.20" y2="564.45" stroke="#b3b3b3" stroke-width="0.7"/>
<line x1="393.80" y1="527.80" x2="393.80" y2="564.04" stroke="#b3b3b3" stroke-width="0.7"/>
<line x1="395.40" y1="527.80" x2="395.40" y2="563.63" stroke="#b3b3b3" stroke-width="0.7"/>
<line x1="397.00" y1="527.80" x2="397.00" y2="555.70" stroke="#b3b3b3" stroke-width="0.7"/>
<line x1="398.60" y1="527.80" x2="398.60" y2="551.31" stroke="#b3b3b3" stroke-width="0.7"/>
<line x1="400.20" y1="527.80" x2="400.20" y2="550.58" stroke="#b3b3b3" stroke-width="0.7"/>
<line x1="401.80" y1="527.80" x2="401.80" y2="549.84" stroke="#b3b3b3" stroke-width="0.7"/>
<line x1="403.40" y1="527.80" x2="403.40" y2="549.11" stroke="#b3b3b3" stroke-width="0.7"/>
<line x1="405.00" y1="527.80" x2="405.00" y2="548.38" stroke="#b3b3b3" stroke-width="0.7"/>
<line x1="406.60" y1="527.80" x2="406.60" y2="547.59" stroke="#b3b3b3" stroke-width="0.7"/>
<line x1="408.20" y1="527.80" x2="408.20" y2="546.79" stroke="#b3b3b3" stroke-width="0.7"/>
<line x1="409.80" y1="527.80" x2="409.80" y2="546.00" stroke="#b3b3b3" stroke-width="0.7"/>
<line x1="411.40" y1="527.80" x2="411.40" y2="545.21" stroke="#b3b3b3" stroke-width="0.7"/>
<line x1="413.00" y1="527.80" x2="413.00" y2="544.41" stroke="#b3b3b3" stroke-width="0.7"/>
<line x1="414.60" y1="527.80" x2="414.60" y2="543.62" stroke="#b3b3b3" stroke-width="0.7"/>
<line x1="416.20" y1="527.80" x2="416.20" y2="542.82" stroke="#b3b3b3" stroke-width="0.7"/>
<line x1="417.80" y1="527.80" x2="417.80" y2="542.03" stroke="#b3b3b3" stroke-width="0.7"/>
<line x1="419.40" y1="527.80" x2="419.40" y2="541.01" stroke="#b3b3b3" stroke-width="0.7"/>
<line x1="421.00" y1="527.80" x2="421.00" y2="539.97" stroke="#b3b3b3" stroke-width="0.7"/>
<line x1="422.60" y1="527.80" x2="422.60" y2="538.92" stroke="#b3b3b3" stroke-width="0.7"/>
<line x1="424.20" y1="527.80" x2="424.20" y2="537.87" stroke="#b3b3b3" stroke-width="0.7"/>
<line x1="425.80" y1="527.80" x2="425.80" y2="536.82" stroke="#b3b3b3" stroke-width="0.7"/>
<line x1="427.40" y1="527.80" x2="427.40" y2="535.81" stroke="#b3b3b3" stroke-width="0.7"/>
<line x1="429.00" y1="527.80" x2="429.00" y2="534.93" stroke="#b3b3b3" stroke-width="0.7"/>
<line x1="430.60" y1="527.80" x2="430.60" y2="534.06" stroke="#b3b3b3" stroke-width="0.7"/>
<line x1="432.20" y1="527.80" x2="432.20" y2="533.18" stroke="#b3b3b3" stroke-width="0.7"/>
<line x1="433.80" y1="527.80" x2="433.80" y2="532.30" stroke="#b3b3b3" stroke-width="0.7"/>
<line x1="435.40" y1="527.80" x2="435.40" y2="531.42" stroke="#b3b3b3" stroke-width="0.7"/>
<line x1="437.00" y1="527.80" x2="437.00" y2="530.54" stroke="#b3b3b3" stroke-width="0.7"/>
<line x1="438.60" y1="527.80" x2="438.60" y2="529.67" stroke="#b3b3b3" stroke-width="0.7"/>
<line x1="440.20" y1="527.80" x2="440.20" y2="528.79" stroke="#b3b3b3" stroke-width="0.7"/>
<line x1="441.80" y1="527.80" x2="441.80" y2="527.91" stroke="#b3b3b3" stroke-width="0.7"/>
<line x1="443.40" y1="527.80" x2="443.40" y2="527.66" stroke="#b3b3b3" stroke-width="0.7"/>
<line x1="445.00" y1="527.80" x2="445.00" y2="527.51" stroke="#b3b3b3" stroke-width="0.7"/>
<line x1="446.60" y1="527.80" x2="446.60" y2="527.35" stroke="#b3b3b3" stroke-width="0.7"/>
<line x1="448.20" y1="527.80" x2="448.20" y2="527.19" stroke="#b3b3b3" stroke-width="0.7"/>
<line x1="449.80" y1="527.80" x2="449.80" y2="527.04" stroke="#b3b3b3" stroke-width="0.7"/>
<line x1="451.40" y1="527.80" x2="451.40" y2="526.88" stroke="#b3b3b3" stroke-width="0.7"/>
<line x1="453.00" y1="527.80" x2="453.00" y2="526.72" stroke="#b3b3b3" stroke-width="0.7"/>
<line x1="454.60" y1="527.80" x2="454.60" y2="526.57" stroke="#b3b3b3" stroke-width="0.7"/>
<line x1="456.20" y1="527.80" x2="456.20" y2="526.37" stroke="#b3b3b3" stroke-width="0.7"/>
<line x1="457.80" y1="527.80" x2="457.80" y2="525.88" stroke="#b3b3b3" stroke-width="0.7"/>
<line x1="459.40" y1="527.80" x2="459.40" y2="525.39" stroke="#b3b3b3" stroke-width="0.7"/>
<line x1="461.00" y1="527.80" x2="461.00" y2="524.90" stroke="#b3b3b3" stroke-width="0.7"/>
<line x1="462.60" y1="527.80" x2="462.60" y2="524.42" stroke="#b3b3b3" stroke-width="0.7"/>
<line x1="464.20" y1="527.80" x2="464.20" y2="523.93" stroke="#b3b3b3" stroke-width="0.7"/>
<line x1="465.80" y1="527.80" x2="465.80" y2="523.44" stroke="#b3b3b3" stroke-width="0.7"/>
<line x1="467.40" y1="527.80" x2="467.40" y2="522.95" stroke="#b3b3b3" stroke-width="0.7"/>
<line x1="469.00" y1="527.80" x2="469.00" y2="522.46" stroke="#b3b3b3" stroke-width="0.7"/>
<line x1="470.60" y1="527.80" x2="470.60" y2="521.98" stroke="#b3b3b3" stroke-width="0.7"/>
<line x1="472.20" y1="527.80" x2="472.20" y2="521.49" stroke="#b3b3b3" stroke-width="0.7"/>
<line x1="473.80" y1="527.80" x2="473.80" y2="521.00" stroke="#b3b3b3" stroke-width="0.7"/>
<line x1="475.40" y1="527.80" x2="475.40" y2="520.65" stroke="#b3b3b3" stroke-width="0.7"/>
<line x1="477.00" y1="527.80" x2="477.00" y2="520.31" stroke="#b3b3b3" stroke-width="0.7"/>
<line x1="478.60" y1="527.80" x2="478.60" y2="519.97" stroke="#b3b3b3" stroke-width="0.7"/>
<line x1="480.20" y1="527.80" x2="480.20" y2="519.64" stroke="#b3b3b3" stroke-width="0.7"/>
<line x1="481.80" y1="527.80" x2="481.80" y2="519.30" stroke="#b3b3b3" stroke-width="0.7"/>
<line x1="483.40" y1="527.80" x2="483.40" y2="518.97" stroke="#b3b3b3" stroke-width="0.7"/>
<line x1="485.00" y1="527.80" x2="485.00" y2="518.63" stroke="#b3b3b3" stroke-width="0.7"/>
<line x1="486.60" y1="527.80" x2="486.60" y2="518.30" stroke="#b3b3b3" stroke-width="0.7"/>
<line x1="488.20" y1="527.80" x2="488.20" y2="517.96" stroke="#b3b3b3" stroke-width="0.7"/>
<line x1="489.80" y1="527.80" x2="489.80" y2="517.62" stroke="#b3b3b3" stroke-width="0.7"/>
<line x1="491.40" y1="527.80" x2="491.40" y2="517.33" stroke="#b3b3b3" stroke-width="0.7"/>
<line x1="493.00" y1="527.80" x2="493.00" y2="517.16" stroke="#b3b3b3" stroke-width="0.7"/>
<line x1="494.60" y1="527.80" x2="494.60" y2="516.99" stroke="#b3b3b3" stroke-width="0.7"/>
<line x1="496.20" y1="527.80" x2="496.20" y2="516.82" stroke="#b3b3b3" stroke-width="0.7"/>
<line x1="497.80" y1="527.80" x2="497.80" y2="516.65" stroke="#b3b3b3" stroke-width="0.7"/>
<line x1="499.40" y1="527.80" x2="499.40" y2="516.48" stroke="#b3b3b3" stroke-width="0.7"/>
<line x1="501.00" y1="527.80" x2="501.00" y2="516.31" stroke="#b3b3b3" stroke-width="0.7"/>
<line x1="502.60" y1="527.80" x2="502.60" y2="516.13" stroke="#b3b3b3" stroke-width="0.7"/>
<line x1="504.20" y1="527.80" x2="504.20" y2="515.96" stroke="#b3b3b3" stroke-width="0.7"/>
<line x1="505.80" y1="527.80" x2="505.80" y2="515.79" stroke="#b3b3b3" stroke-width="0.7"/>
<line x1="507.40" y1="527.80" x2="507.40" y2="515.62" stroke="#b3b3b3" stroke-width="0.7"/>
<line x1="509.00" y1="527.80" x2="509.00" y2="515.45" stroke="#b3b3b3" stroke-width="0.7"/>
<line x1="510.60" y1="527.80" x2="510.60" y2="515.01" stroke="#b3b3b3" stroke-width="0.7"/>
<line x1="512.20" y1="527.80" x2="512.20" y2="505.85" stroke="#b3b3b3" stroke-width="0.7"/>
<line x1="513.80" y1="527.80" x2="513.80" y2="505.85" stroke="#b3b3b3" stroke-width="0.7"/>
<line x1="515.40" y1="527.80" x2="515.40" y2="505.85" stroke="#b3b3b3" stroke-width="0.7"/>
<line x1="379.00" y1="527.80" x2="379.00" y2="580.62" stroke="#d62a3c" stroke-width="1.6"/>
<line x1="389.60" y1="527.80" x2="389.60" y2="564.84" stroke="#d62a3c" stroke-width="1"/>
<line x1="391.60" y1="527.80" x2="391.60" y2="564.84" stroke="#d62a3c" stroke-width="1"/>
<line x1="393.60" y1="527.80" x2="393.60" y2="564.84" stroke="#d62a3c" stroke-width="1"/>
<line x1="395.40" y1="527.80" x2="395.40" y2="564.84" stroke="#d62a3c" stroke-width="1"/>
<line x1="404.60" y1="527.80" x2="404.60" y2="549.07" stroke="#d62a3c" stroke-width="1"/>
<line x1="406.90" y1="527.80" x2="406.90" y2="549.07" stroke="#d62a3c" stroke-width="1"/>
<line x1="417.90" y1="527.80" x2="417.90" y2="541.93" stroke="#d62a3c" stroke-width="1"/>
<line x1="426.80" y1="527.80" x2="426.80" y2="536.03" stroke="#d62a3c" stroke-width="1"/>
<line x1="473.30" y1="527.80" x2="473.30" y2="520.94" stroke="#d62a3c" stroke-width="1"/>
<line x1="499.00" y1="527.80" x2="499.00" y2="514.08" stroke="#d62a3c" stroke-width="1"/>
<line x1="377.60" y1="500.36" x2="516.00" y2="500.36" stroke="#808080" stroke-width="1.0"/>
<text x="372.50" y="504.55" font-size="10" text-anchor="end" font-weight="normal" font-style="normal" fill="#1a1a1a" >2</text>
<line x1="377.60" y1="514.08" x2="516.00" y2="514.08" stroke="#808080" stroke-width="1.0"/>
<text x="372.50" y="518.35" font-size="10" text-anchor="end" font-weight="normal" font-style="normal" fill="#1a1a1a" >1</text>
<line x1="377.60" y1="527.80" x2="516.00" y2="527.80" stroke="#808080" stroke-width="1.0"/>
<text x="372.50" y="531.85" font-size="10" text-anchor="end" font-weight="normal" font-style="normal" fill="#1a1a1a" >0</text>
<line x1="377.60" y1="541.52" x2="516.00" y2="541.52" stroke="#808080" stroke-width="1.0"/>
<text x="372.50" y="545.35" font-size="10" text-anchor="end" font-weight="normal" font-style="normal" fill="#1a1a1a" >-1</text>
<line x1="377.60" y1="555.24" x2="516.00" y2="555.24" stroke="#808080" stroke-width="1.0"/>
<text x="372.50" y="558.95" font-size="10" text-anchor="end" font-weight="normal" font-style="normal" fill="#1a1a1a" >-2</text>
<line x1="377.60" y1="568.96" x2="516.00" y2="568.96" stroke="#808080" stroke-width="1.0"/>
<text x="372.50" y="573.05" font-size="10" text-anchor="end" font-weight="normal" font-style="normal" fill="#1a1a1a" >-3</text>
<line x1="377.60" y1="582.68" x2="516.00" y2="582.68" stroke="#808080" stroke-width="1.0"/>
<text x="372.50" y="586.55" font-size="10" text-anchor="end" font-weight="normal" font-style="normal" fill="#1a1a1a" >-4</text>
<line x1="378.20" y1="500.36" x2="378.20" y2="582.68" stroke="#808080" stroke-width="1.1"/>
<text x="328.40" y="525.70" font-size="10.2" text-anchor="middle" font-weight="normal" font-style="normal" fill="#1a1a1a" >Relative</text>
<text x="329.50" y="537.80" font-size="10.2" text-anchor="middle" font-weight="normal" font-style="normal" fill="#1a1a1a" >mRNA</text>
<text x="329.70" y="549.90" font-size="10.2" text-anchor="middle" font-weight="normal" font-style="normal" fill="#1a1a1a" >expression</text>
<text x="330.10" y="562.00" font-size="10.2" text-anchor="middle" font-weight="normal" font-style="normal" fill="#1a1a1a" >(log2)</text>
<text x="3.70" y="630.40" font-size="24.6" text-anchor="start" font-weight="bold" font-style="normal" fill="#000" style="stroke:none">D</text>
<text x="23.20" y="644.50" font-size="14.3" text-anchor="start" font-weight="normal" font-style="normal" fill="#1a1a1a" >Double loss of 13q33-q34</text>
<text x="24.60" y="660.30" font-size="10.2" text-anchor="start" font-weight="normal" font-style="normal" fill="#1a1a1a" >(MCR627)</text>
<line x1="121.50" y1="715.30" x2="280.00" y2="715.30" stroke="#868686" stroke-width="1"/>
<line x1="121.50" y1="731.75" x2="280.00" y2="731.75" stroke="#868686" stroke-width="1"/>
<line x1="121.50" y1="748.20" x2="280.00" y2="748.20" stroke="#868686" stroke-width="1"/>
<line x1="121.50" y1="764.65" x2="280.00" y2="764.65" stroke="#868686" stroke-width="1"/>
<line x1="121.50" y1="781.10" x2="280.00" y2="781.10" stroke="#868686" stroke-width="1"/>
<line x1="121.50" y1="797.55" x2="280.00" y2="797.55" stroke="#868686" stroke-width="1"/>
<line x1="123.30" y1="715.30" x2="123.30" y2="797.55" stroke="#868686" stroke-width="1"/>
<line x1="123.30" y1="715.30" x2="123.30" y2="717.80" stroke="#868686" stroke-width="1"/>
<line x1="138.97" y1="715.30" x2="138.97" y2="717.80" stroke="#868686" stroke-width="1"/>
<line x1="154.64" y1="715.30" x2="154.64" y2="717.80" stroke="#868686" stroke-width="1"/>
<line x1="170.31" y1="715.30" x2="170.31" y2="717.80" stroke="#868686" stroke-width="1"/>
<line x1="185.98" y1="715.30" x2="185.98" y2="717.80" stroke="#868686" stroke-width="1"/>
<line x1="201.65" y1="715.30" x2="201.65" y2="717.80" stroke="#868686" stroke-width="1"/>
<line x1="217.32" y1="715.30" x2="217.32" y2="717.80" stroke="#868686" stroke-width="1"/>
<line x1="232.99" y1="715.30" x2="232.99" y2="717.80" stroke="#868686" stroke-width="1"/>
<line x1="248.66" y1="715.30" x2="248.66" y2="717.80" stroke="#868686" stroke-width="1"/>
<line x1="264.33" y1="715.30" x2="264.33" y2="717.80" stroke="#868686" stroke-width="1"/>
<line x1="280.00" y1="715.30" x2="280.00" y2="717.80" stroke="#868686" stroke-width="1"/>
<text x="117.80" y="720.05" font-size="10" text-anchor="end" font-weight="normal" font-style="normal" fill="#1a1a1a" >0</text>
<text x="119.90" y="737.55" font-size="10" text-anchor="end" font-weight="normal" font-style="normal" fill="#1a1a1a" >-0.5</text>
<text x="119.30" y="753.35" font-size="10" text-anchor="end" font-weight="normal" font-style="normal" fill="#1a1a1a" >-1.0</text>
<text x="119.30" y="769.95" font-size="10" text-anchor="end" font-weight="normal" font-style="normal" fill="#1a1a1a" >-1.5</text>
<text x="119.30" y="788.15" font-size="10" text-anchor="end" font-weight="normal" font-style="normal" fill="#1a1a1a" >-2.0</text>
<text x="119.30" y="805.15" font-size="10" text-anchor="end" font-weight="normal" font-style="normal" fill="#1a1a1a" >-2.5</text>
<rect x="128.13" y="715.30" width="6.00" height="76.00" fill="#ff0000"/>
<rect x="143.81" y="715.30" width="6.00" height="73.70" fill="#000000"/>
<rect x="159.47" y="715.30" width="6.00" height="73.70" fill="#000000"/>
<rect x="175.14" y="715.30" width="6.00" height="65.80" fill="#000000"/>
<rect x="190.81" y="715.30" width="6.00" height="60.87" fill="#000000"/>
<rect x="206.48" y="715.30" width="6.00" height="53.63" fill="#000000"/>
<rect x="222.15" y="715.30" width="6.00" height="47.71" fill="#000000"/>
<rect x="237.82" y="715.30" width="6.00" height="43.76" fill="#000000"/>
<rect x="253.50" y="715.30" width="6.00" height="41.45" fill="#000000"/>
<rect x="269.16" y="715.30" width="6.00" height="41.12" fill="#000000"/>
<text transform="translate(136.73,711.30) rotate(-90)" font-size="10" font-style="italic" text-anchor="start" fill="#1a1a1a">ING1</text>
<text transform="translate(152.41,711.30) rotate(-90)" font-size="10" font-style="italic" text-anchor="start" fill="#1a1a1a">LAMP1</text>
<text transform="translate(167.77,711.30) rotate(-90)" font-size="10" font-style="italic" text-anchor="start" fill="#1a1a1a">ARGHEF7</text>
<text transform="translate(183.94,711.30) rotate(-90)" font-size="10" font-style="italic" text-anchor="start" fill="#1a1a1a">ANKRD10</text>
<text transform="translate(200.01,711.30) rotate(-90)" font-size="10" font-style="italic" text-anchor="start" fill="#1a1a1a">RASA3</text>
<text transform="translate(216.28,711.30) rotate(-90)" font-size="10" font-style="italic" text-anchor="start" fill="#1a1a1a">FLJ41484</text>
<text transform="translate(232.85,711.30) rotate(-90)" font-size="10" font-style="italic" text-anchor="start" fill="#1a1a1a">CUL4A</text>
<text transform="translate(249.02,711.30) rotate(-90)" font-size="10" font-style="italic" text-anchor="start" fill="#1a1a1a">ATP11A</text>
<text transform="translate(264.80,711.30) rotate(-90)" font-size="10" font-style="italic" text-anchor="start" fill="#1a1a1a">TUBGCP3</text>
<text transform="translate(280.76,711.30) rotate(-90)" font-size="10" font-style="italic" text-anchor="start" fill="#1a1a1a">GRIP1</text>
<text x="60.70" y="734.60" font-size="10.2" text-anchor="middle" font-weight="normal" font-style="normal" fill="#1a1a1a" >Fold change</text>
<text x="60.70" y="747.00" font-size="10.2" text-anchor="middle" font-weight="normal" font-style="normal" fill="#1a1a1a" >in gene</text>
<text x="61.80" y="759.40" font-size="10.2" text-anchor="middle" font-weight="normal" font-style="normal" fill="#1a1a1a" >expression</text>
<text x="62.10" y="771.80" font-size="10.2" text-anchor="middle" font-weight="normal" font-style="normal" fill="#1a1a1a" >(MCR+/MCR-)</text>
<text x="62.00" y="784.20" font-size="10.2" text-anchor="middle" font-weight="normal" font-style="normal" fill="#1a1a1a" >(log2)</text>
<line x1="378.80" y1="740.70" x2="378.80" y2="766.35" stroke="#b3b3b3" stroke-width="0.7"/>
<line x1="380.40" y1="740.70" x2="380.40" y2="765.46" stroke="#b3b3b3" stroke-width="0.7"/>
<line x1="382.00" y1="740.70" x2="382.00" y2="764.45" stroke="#b3b3b3" stroke-width="0.7"/>
<line x1="383.60" y1="740.70" x2="383.60" y2="763.44" stroke="#b3b3b3" stroke-width="0.7"/>
<line x1="385.20" y1="740.70" x2="385.20" y2="762.43" stroke="#b3b3b3" stroke-width="0.7"/>
<line x1="386.80" y1="740.70" x2="386.80" y2="761.41" stroke="#b3b3b3" stroke-width="0.7"/>
<line x1="388.40" y1="740.70" x2="388.40" y2="760.40" stroke="#b3b3b3" stroke-width="0.7"/>
<line x1="390.00" y1="740.70" x2="390.00" y2="759.29" stroke="#b3b3b3" stroke-width="0.7"/>
<line x1="391.60" y1="740.70" x2="391.60" y2="758.17" stroke="#b3b3b3" stroke-width="0.7"/>
<line x1="393.20" y1="740.70" x2="393.20" y2="757.05" stroke="#b3b3b3" stroke-width="0.7"/>
<line x1="394.80" y1="740.70" x2="394.80" y2="756.33" stroke="#b3b3b3" stroke-width="0.7"/>
<line x1="396.40" y1="740.70" x2="396.40" y2="755.99" stroke="#b3b3b3" stroke-width="0.7"/>
<line x1="398.00" y1="740.70" x2="398.00" y2="755.66" stroke="#b3b3b3" stroke-width="0.7"/>
<line x1="399.60" y1="740.70" x2="399.60" y2="755.33" stroke="#b3b3b3" stroke-width="0.7"/>
<line x1="401.20" y1="740.70" x2="401.20" y2="754.99" stroke="#b3b3b3" stroke-width="0.7"/>
<line x1="402.80" y1="740.70" x2="402.80" y2="754.66" stroke="#b3b3b3" stroke-width="0.7"/>
<line x1="404.40" y1="740.70" x2="404.40" y2="754.33" stroke="#b3b3b3" stroke-width="0.7"/>
<line x1="406.00" y1="740.70" x2="406.00" y2="753.70" stroke="#b3b3b3" stroke-width="0.7"/>
<line x1="407.60" y1="740.70" x2="407.60" y2="752.89" stroke="#b3b3b3" stroke-width="0.7"/>
<line x1="409.20" y1="740.70" x2="409.20" y2="752.08" stroke="#b3b3b3" stroke-width="0.7"/>
<line x1="410.80" y1="740.70" x2="410.80" y2="751.28" stroke="#b3b3b3" stroke-width="0.7"/>
<line x1="412.40" y1="740.70" x2="412.40" y2="750.47" stroke="#b3b3b3" stroke-width="0.7"/>
<line x1="414.00" y1="740.70" x2="414.00" y2="749.91" stroke="#b3b3b3" stroke-width="0.7"/>
<line x1="415.60" y1="740.70" x2="415.60" y2="749.36" stroke="#b3b3b3" stroke-width="0.7"/>
<line x1="417.20" y1="740.70" x2="417.20" y2="748.81" stroke="#b3b3b3" stroke-width="0.7"/>
<line x1="418.80" y1="740.70" x2="418.80" y2="748.27" stroke="#b3b3b3" stroke-width="0.7"/>
<line x1="420.40" y1="740.70" x2="420.40" y2="747.70" stroke="#b3b3b3" stroke-width="0.7"/>
<line x1="422.00" y1="740.70" x2="422.00" y2="747.08" stroke="#b3b3b3" stroke-width="0.7"/>
<line x1="423.60" y1="740.70" x2="423.60" y2="746.46" stroke="#b3b3b3" stroke-width="0.7"/>
<line x1="425.20" y1="740.70" x2="425.20" y2="745.84" stroke="#b3b3b3" stroke-width="0.7"/>
<line x1="426.80" y1="740.70" x2="426.80" y2="745.22" stroke="#b3b3b3" stroke-width="0.7"/>
<line x1="428.40" y1="740.70" x2="428.40" y2="744.55" stroke="#b3b3b3" stroke-width="0.7"/>
<line x1="430.00" y1="740.70" x2="430.00" y2="743.74" stroke="#b3b3b3" stroke-width="0.7"/>
<line x1="431.60" y1="740.70" x2="431.60" y2="742.93" stroke="#b3b3b3" stroke-width="0.7"/>
<line x1="433.20" y1="740.70" x2="433.20" y2="742.12" stroke="#b3b3b3" stroke-width="0.7"/>
<line x1="434.80" y1="740.70" x2="434.80" y2="741.31" stroke="#b3b3b3" stroke-width="0.7"/>
<line x1="436.40" y1="740.70" x2="436.40" y2="740.67" stroke="#b3b3b3" stroke-width="0.7"/>
<line x1="438.00" y1="740.70" x2="438.00" y2="740.56" stroke="#b3b3b3" stroke-width="0.7"/>
<line x1="439.60" y1="740.70" x2="439.60" y2="740.46" stroke="#b3b3b3" stroke-width="0.7"/>
<line x1="441.20" y1="740.70" x2="441.20" y2="740.35" stroke="#b3b3b3" stroke-width="0.7"/>
<line x1="442.80" y1="740.70" x2="442.80" y2="740.24" stroke="#b3b3b3" stroke-width="0.7"/>
<line x1="444.40" y1="740.70" x2="444.40" y2="740.13" stroke="#b3b3b3" stroke-width="0.7"/>
<line x1="446.00" y1="740.70" x2="446.00" y2="740.02" stroke="#b3b3b3" stroke-width="0.7"/>
<line x1="447.60" y1="740.70" x2="447.60" y2="739.92" stroke="#b3b3b3" stroke-width="0.7"/>
<line x1="449.20" y1="740.70" x2="449.20" y2="739.81" stroke="#b3b3b3" stroke-width="0.7"/>
<line x1="450.80" y1="740.70" x2="450.80" y2="739.70" stroke="#b3b3b3" stroke-width="0.7"/>
<line x1="452.40" y1="740.70" x2="452.40" y2="739.59" stroke="#b3b3b3" stroke-width="0.7"/>
<line x1="454.00" y1="740.70" x2="454.00" y2="739.49" stroke="#b3b3b3" stroke-width="0.7"/>
<line x1="455.60" y1="740.70" x2="455.60" y2="739.38" stroke="#b3b3b3" stroke-width="0.7"/>
<line x1="457.20" y1="740.70" x2="457.20" y2="739.05" stroke="#b3b3b3" stroke-width="0.7"/>
<line x1="458.80" y1="740.70" x2="458.80" y2="738.64" stroke="#b3b3b3" stroke-width="0.7"/>
<line x1="460.40" y1="740.70" x2="460.40" y2="738.24" stroke="#b3b3b3" stroke-width="0.7"/>
<line x1="462.00" y1="740.70" x2="462.00" y2="737.83" stroke="#b3b3b3" stroke-width="0.7"/>
<line x1="463.60" y1="740.70" x2="463.60" y2="737.43" stroke="#b3b3b3" stroke-width="0.7"/>
<line x1="465.20" y1="740.70" x2="465.20" y2="737.02" stroke="#b3b3b3" stroke-width="0.7"/>
<line x1="466.80" y1="740.70" x2="466.80" y2="736.62" stroke="#b3b3b3" stroke-width="0.7"/>
<line x1="468.40" y1="740.70" x2="468.40" y2="736.21" stroke="#b3b3b3" stroke-width="0.7"/>
<line x1="470.00" y1="740.70" x2="470.00" y2="735.81" stroke="#b3b3b3" stroke-width="0.7"/>
<line x1="471.60" y1="740.70" x2="471.60" y2="735.40" stroke="#b3b3b3" stroke-width="0.7"/>
<line x1="473.20" y1="740.70" x2="473.20" y2="735.00" stroke="#b3b3b3" stroke-width="0.7"/>
<line x1="474.80" y1="740.70" x2="474.80" y2="734.59" stroke="#b3b3b3" stroke-width="0.7"/>
<line x1="476.40" y1="740.70" x2="476.40" y2="734.19" stroke="#b3b3b3" stroke-width="0.7"/>
<line x1="478.00" y1="740.70" x2="478.00" y2="733.78" stroke="#b3b3b3" stroke-width="0.7"/>
<line x1="479.60" y1="740.70" x2="479.60" y2="733.38" stroke="#b3b3b3" stroke-width="0.7"/>
<line x1="481.20" y1="740.70" x2="481.20" y2="732.97" stroke="#b3b3b3" stroke-width="0.7"/>
<line x1="482.80" y1="740.70" x2="482.80" y2="732.56" stroke="#b3b3b3" stroke-width="0.7"/>
<line x1="484.40" y1="740.70" x2="484.40" y2="732.16" stroke="#b3b3b3" stroke-width="0.7"/>
<line x1="486.00" y1="740.70" x2="486.00" y2="731.75" stroke="#b3b3b3" stroke-width="0.7"/>
<line x1="487.60" y1="740.70" x2="487.60" y2="731.34" stroke="#b3b3b3" stroke-width="0.7"/>
<line x1="489.20" y1="740.70" x2="489.20" y2="730.94" stroke="#b3b3b3" stroke-width="0.7"/>
<line x1="490.80" y1="740.70" x2="490.80" y2="730.53" stroke="#b3b3b3" stroke-width="0.7"/>
<line x1="492.40" y1="740.70" x2="492.40" y2="730.12" stroke="#b3b3b3" stroke-width="0.7"/>
<line x1="494.00" y1="740.70" x2="494.00" y2="729.72" stroke="#b3b3b3" stroke-width="0.7"/>
<line x1="495.60" y1="740.70" x2="495.60" y2="729.31" stroke="#b3b3b3" stroke-width="0.7"/>
<line x1="497.20" y1="740.70" x2="497.20" y2="728.93" stroke="#b3b3b3" stroke-width="0.7"/>
<line x1="498.80" y1="740.70" x2="498.80" y2="728.69" stroke="#b3b3b3" stroke-width="0.7"/>
<line x1="500.40" y1="740.70" x2="500.40" y2="728.45" stroke="#b3b3b3" stroke-width="0.7"/>
<line x1="502.00" y1="740.70" x2="502.00" y2="728.21" stroke="#b3b3b3" stroke-width="0.7"/>
<line x1="503.60" y1="740.70" x2="503.60" y2="727.97" stroke="#b3b3b3" stroke-width="0.7"/>
<line x1="505.20" y1="740.70" x2="505.20" y2="727.73" stroke="#b3b3b3" stroke-width="0.7"/>
<line x1="506.80" y1="740.70" x2="506.80" y2="727.49" stroke="#b3b3b3" stroke-width="0.7"/>
<line x1="508.40" y1="740.70" x2="508.40" y2="727.25" stroke="#b3b3b3" stroke-width="0.7"/>
<line x1="510.00" y1="740.70" x2="510.00" y2="727.02" stroke="#b3b3b3" stroke-width="0.7"/>
<line x1="511.60" y1="740.70" x2="511.60" y2="726.78" stroke="#b3b3b3" stroke-width="0.7"/>
<line x1="513.20" y1="740.70" x2="513.20" y2="726.54" stroke="#b3b3b3" stroke-width="0.7"/>
<line x1="514.80" y1="740.70" x2="514.80" y2="726.30" stroke="#b3b3b3" stroke-width="0.7"/>
<polygon points="378.30,740.70 378.30,767.70 388.00,763.38 388.00,740.70" fill="#f7a0a4"/>
<line x1="378.60" y1="740.70" x2="378.60" y2="787.95" stroke="#d62a3c" stroke-width="1.3"/>
<line x1="382.60" y1="740.70" x2="382.60" y2="767.70" stroke="#d62a3c" stroke-width="1"/>
<line x1="384.00" y1="740.70" x2="384.00" y2="767.70" stroke="#d62a3c" stroke-width="1"/>
<line x1="385.50" y1="740.70" x2="385.50" y2="764.33" stroke="#d62a3c" stroke-width="1"/>
<line x1="387.50" y1="740.70" x2="387.50" y2="763.38" stroke="#d62a3c" stroke-width="1"/>
<line x1="377.00" y1="713.70" x2="516.50" y2="713.70" stroke="#808080" stroke-width="1.0"/>
<text x="373.70" y="717.95" font-size="10" text-anchor="end" font-weight="normal" font-style="normal" fill="#1a1a1a" >2</text>
<line x1="377.00" y1="727.20" x2="516.50" y2="727.20" stroke="#808080" stroke-width="1.0"/>
<text x="373.70" y="730.95" font-size="10" text-anchor="end" font-weight="normal" font-style="normal" fill="#1a1a1a" >1</text>
<line x1="377.00" y1="740.70" x2="516.50" y2="740.70" stroke="#808080" stroke-width="1.0"/>
<text x="373.70" y="744.45" font-size="10" text-anchor="end" font-weight="normal" font-style="normal" fill="#1a1a1a" >0</text>
<line x1="377.00" y1="754.20" x2="516.50" y2="754.20" stroke="#808080" stroke-width="1.0"/>
<text x="373.70" y="758.55" font-size="10" text-anchor="end" font-weight="normal" font-style="normal" fill="#1a1a1a" >-1</text>
<line x1="377.00" y1="767.70" x2="516.50" y2="767.70" stroke="#808080" stroke-width="1.0"/>
<text x="373.70" y="772.65" font-size="10" text-anchor="end" font-weight="normal" font-style="normal" fill="#1a1a1a" >-2</text>
<line x1="377.00" y1="781.20" x2="516.50" y2="781.20" stroke="#808080" stroke-width="1.0"/>
<text x="373.70" y="786.15" font-size="10" text-anchor="end" font-weight="normal" font-style="normal" fill="#1a1a1a" >-3</text>
<line x1="377.00" y1="794.70" x2="516.50" y2="794.70" stroke="#808080" stroke-width="1.0"/>
<text x="373.70" y="799.75" font-size="10" text-anchor="end" font-weight="normal" font-style="normal" fill="#1a1a1a" >-4</text>
<line x1="377.60" y1="713.70" x2="377.60" y2="794.70" stroke="#808080" stroke-width="1.1"/>
<text x="328.40" y="734.50" font-size="10.2" text-anchor="middle" font-weight="normal" font-style="normal" fill="#1a1a1a" >Relative</text>
<text x="329.50" y="746.95" font-size="10.2" text-anchor="middle" font-weight="normal" font-style="normal" fill="#1a1a1a" >mRNA</text>
<text x="329.70" y="759.40" font-size="10.2" text-anchor="middle" font-weight="normal" font-style="normal" fill="#1a1a1a" >expression</text>
<text x="330.10" y="771.85" font-size="10.2" text-anchor="middle" font-weight="normal" font-style="normal" fill="#1a1a1a" >(log2)</text>
</svg>
</body></html>
